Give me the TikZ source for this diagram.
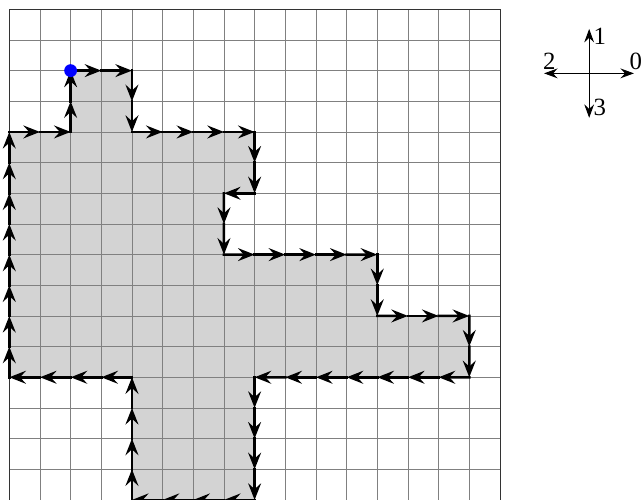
\documentclass[tikz,border=0pt]{standalone}
\usepackage{fontspec}
\setmainfont{Liberation Serif}
\usetikzlibrary{arrows.meta, calc}
\definecolor{cellfill}{HTML}{D3D3D3}
\definecolor{gridgray}{HTML}{808080}
\definecolor{startblue}{HTML}{0000FF}
\tikzset{
  gridline/.style     = {draw=gridgray, line width=0.55pt},
  framebox/.style     = {draw=black!80, line width=0.6pt},
  chainstep/.style    = {-{Stealth[length=5.4mm, width=4.2mm, inset=1.9mm]},
                         line width=2.3pt, line cap=rect},
  compassarrow/.style = {{Stealth[length=4.4mm, width=3.2mm, inset=1.5mm]}-{Stealth[length=4.4mm, width=3.2mm, inset=1.5mm]},
                         line width=0.9pt},
  dirlabel/.style     = {font=\fontsize{23}{27}\selectfont, inner sep=0pt, anchor=base},
  startdot/.style     = {fill=startblue},
}
% one arrow for every unit step between two corners
\newcommand{\chainrun}[3]{%
  \foreach \k in {1,...,#3}{%
    \draw[chainstep] ($(#1)!{(\k-1)/#3}!(#2)$) -- ($(#1)!{\k/#3}!(#2)$);}}

\begin{document}
\begin{tikzpicture}[x=1cm, y=1cm]
  \useasboundingbox (-0.303,0.03) rectangle (20.6,16.303);
  % corners of the traced region
  \coordinate (A) at (2,14);
  \coordinate (B) at (4,14);
  \coordinate (C) at (4,12);
  \coordinate (D) at (8,12);
  \coordinate (E) at (8,10);
  \coordinate (F) at (7,10);
  \coordinate (G) at (7,8);
  \coordinate (H) at (12,8);
  \coordinate (I) at (12,6);
  \coordinate (J) at (15,6);
  \coordinate (K) at (15,4);
  \coordinate (L) at (8,4);
  \coordinate (M) at (8,0);
  \coordinate (N) at (4,0);
  \coordinate (O) at (4,4);
  \coordinate (P) at (0,4);
  \coordinate (Q) at (0,12);
  \coordinate (R) at (2,12);
  \fill[cellfill] (A) -- (B) -- (C) -- (D) -- (E) -- (F) -- (G) -- (H) -- (I)
    -- (J) -- (K) -- (L) -- (M) -- (N) -- (O) -- (P) -- (Q) -- (R) -- cycle;
  \draw[gridline] (0,0) grid (16,16);
  \draw[framebox] (0,0) rectangle (16,16);
  % chain code, clockwise from the start point
  \chainrun{A}{B}{2}
  \chainrun{B}{C}{2}
  \chainrun{C}{D}{4}
  \chainrun{D}{E}{2}
  \chainrun{E}{F}{1}
  \chainrun{F}{G}{2}
  \chainrun{G}{H}{5}
  \chainrun{H}{I}{2}
  \chainrun{I}{J}{3}
  \chainrun{J}{K}{2}
  \chainrun{K}{L}{7}
  \chainrun{L}{M}{4}
  \chainrun{M}{N}{4}
  \chainrun{N}{O}{4}
  \chainrun{O}{P}{4}
  \chainrun{P}{Q}{8}
  \chainrun{Q}{R}{2}
  \chainrun{R}{A}{2}
  \fill[startdot] (A) circle (0.21);
  % direction legend
  \coordinate (cc) at (18.91,13.91);
  \coordinate (c0) at ($(cc)+(1.46,0)$);
  \coordinate (c1) at ($(cc)+(0,1.45)$);
  \coordinate (c2) at ($(cc)+(-1.47,0)$);
  \coordinate (c3) at ($(cc)+(0,-1.45)$);
  \draw[compassarrow] (c2) -- (c0);
  \draw[compassarrow] (c3) -- (c1);
  \node[dirlabel] (l0) at ($(c0)+(0.06,0.12)$) {0};
  \node[dirlabel] (l1) at ($(c1)+(0.35,-0.52)$) {1};
  \node[dirlabel] (l2) at ($(c2)+(0.17,0.12)$) {2};
  \node[dirlabel] (l3) at ($(c3)+(0.35,0.07)$) {3};
\end{tikzpicture}
\end{document}
